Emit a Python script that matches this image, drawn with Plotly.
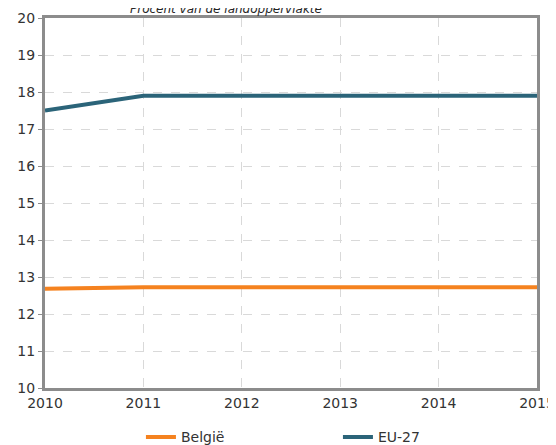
import plotly.graph_objects as go

years = [2010, 2011, 2012, 2013, 2014, 2015]
belgie = [12.68, 12.72, 12.72, 12.72, 12.72, 12.72]
eu27 = [17.5, 17.9, 17.9, 17.9, 17.9, 17.9]
title_text = "Procent van de landoppervlakte"

font = "DejaVu Sans"
fig = go.Figure()
fig.add_trace(go.Scatter(x=years, y=belgie, mode="lines", name="België",
                         line=dict(color="#F5821F", width=4)))
fig.add_trace(go.Scatter(x=years, y=eu27, mode="lines", name="EU-27",
                         line=dict(color="#2B6479", width=4)))

fig.update_layout(
    width=548, height=437,
    margin=dict(l=37, r=19, t=10, b=57, autoexpand=False),
    paper_bgcolor="white", plot_bgcolor="white",
    font=dict(family=font, size=14, color="#333333"),
    showlegend=True,
    legend=dict(orientation="h", x=0.195, xanchor="left", y=-0.09, yanchor="top",
                entrywidth=152, entrywidthmode="pixels",
                font=dict(size=14, color="#333333")),
    xaxis=dict(range=[2010, 2015], tickvals=years, ticktext=[str(y) for y in years],
               showgrid=True, gridcolor="#D9D9D9", griddash="dash", gridwidth=1,
               showline=True, linecolor="#8C8C8C", linewidth=3, mirror=True,
               ticks="", zeroline=False),
    yaxis=dict(range=[10, 20], dtick=1,
               showgrid=True, gridcolor="#D9D9D9", griddash="dash", gridwidth=1,
               showline=True, linecolor="#8C8C8C", linewidth=3, mirror=True,
               ticks="outside", ticklen=4, tickcolor="#8C8C8C", zeroline=False),
    annotations=[dict(text="<i>" + title_text + "</i>", xref="paper", yref="paper",
                      x=0.367, y=1, xanchor="center", yanchor="bottom", yshift=0,
                      showarrow=False, font=dict(size=12, color="#262626"))],
)

fig.write_html("out.html")
